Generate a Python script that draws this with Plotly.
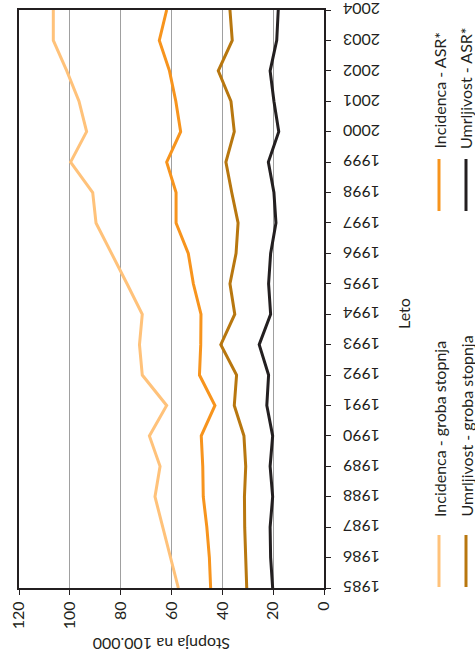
import plotly.graph_objects as go

years = list(range(1985, 2005))
inc_crude = [57.3, 60.3, 63.3, 66.5, 64.5, 68.7, 61.9, 71.5, 72.6, 71.5,
             77.5, 83.6, 89.7, 91.0, 99.7, 93.4, 96.4, 101.2, 106.5, 106.5]
inc_asr = [44.6, 45.1, 46.1, 47.5, 47.7, 48.3, 42.9, 49.0, 48.5, 48.4,
           51.4, 53.4, 58.2, 58.2, 61.9, 56.4, 58.3, 60.8, 64.8, 61.9]
mort_crude = [30.4, 30.8, 31.2, 31.3, 30.8, 31.5, 35.3, 34.4, 40.6, 35.1,
              37.0, 34.6, 33.8, 36.3, 38.6, 35.3, 36.6, 41.6, 36.1, 37.0]
mort_asr = [20.2, 21.0, 21.2, 20.2, 21.2, 20.2, 22.5, 21.8, 25.5, 21.0,
            21.8, 21.0, 18.9, 19.7, 21.9, 17.8, 19.7, 21.2, 18.6, 18.0]

series_names = ["Incidenca - groba stopnja", "Umrljivost - groba stopnja",
                "Incidenca - ASR*", "Umrljivost - ASR*"]
series_vals = [inc_crude, mort_crude, inc_asr, mort_asr]
colors = ["#FFC27A", "#B8770F", "#F7941D", "#231F20"]

value_ticks = [0, 20, 40, 60, 80, 100, 120]
year_labels = [str(y) for y in years]
axis_title = "Stopnja na 100.000"
year_title = "Leto"

FONT = "Lato"
W, H = 475, 652
L, R, T, B = 19, 324, 10, 588


def px(xp):
    return (xp - L) / (R - L)


def py(yp):
    return (B - yp) / (B - T)


fig = go.Figure()
for name, vals, c in zip(series_names, series_vals, colors):
    fig.add_trace(go.Scatter(x=vals, y=years, mode="lines", name=name,
                             line=dict(color=c, width=3), showlegend=False))

fig.update_layout(
    width=W, height=H,
    margin=dict(l=L, r=W - R, t=T, b=H - B, autoexpand=False),
    paper_bgcolor="white", plot_bgcolor="white",
    font=dict(family=FONT, size=16, color="#231F20"),
    xaxis=dict(range=[120, 0], tickvals=value_ticks, ticks="outside", ticklen=5,
               tickwidth=1, tickcolor="#231F20", tickangle=-90, automargin=False,
               showgrid=True, gridcolor="#A0A0A0", gridwidth=1,
               showline=True, linecolor="#231F20", linewidth=2, mirror=True,
               zeroline=False, tickfont=dict(size=16)),
    yaxis=dict(range=[1985, 2004], side="right", tickvals=years, ticks="outside",
               ticklen=5, tickwidth=1, tickcolor="#231F20", showticklabels=False,
               automargin=False, showgrid=False, showline=True,
               linecolor="#231F20", linewidth=2, mirror=True, zeroline=False),
)

# year tick labels (upside down)
for yv, lab in zip(years, year_labels):
    fig.add_annotation(x=px(362), y=yv, xref="paper", yref="y", text=lab,
                       textangle=180, showarrow=False, font=dict(size=16),
                       xanchor="center", yanchor="middle")

# axis titles
fig.add_annotation(x=px(162), y=py(645), xref="paper", yref="paper", text=axis_title,
                   textangle=180, showarrow=False, font=dict(size=16),
                   xanchor="center", yanchor="middle")
fig.add_annotation(x=px(403), y=py(314), xref="paper", yref="paper", text=year_title,
                   textangle=-90, showarrow=False, font=dict(size=16),
                   xanchor="center", yanchor="middle")

# legend (rotated)
leg = [(439, 535, 587, 519), (466, 535, 587, 519), (439, 159, 211, 151), (466, 159, 211, 151)]
for (lx, y0, y1, tb), name, c in zip(leg, series_names, colors):
    fig.add_shape(type="line", xref="paper", yref="paper", x0=px(lx), x1=px(lx),
                  y0=py(y0), y1=py(y1), line=dict(color=c, width=3))
    fig.add_annotation(x=px(lx), y=py(tb), xref="paper", yref="paper", text=name,
                       textangle=-90, showarrow=False, font=dict(size=16),
                       xanchor="center", yanchor="bottom")

fig.write_html("out.html", config={"displayModeBar": False},
               post_script="document.body.style.margin='0';document.body.style.padding='0';")
